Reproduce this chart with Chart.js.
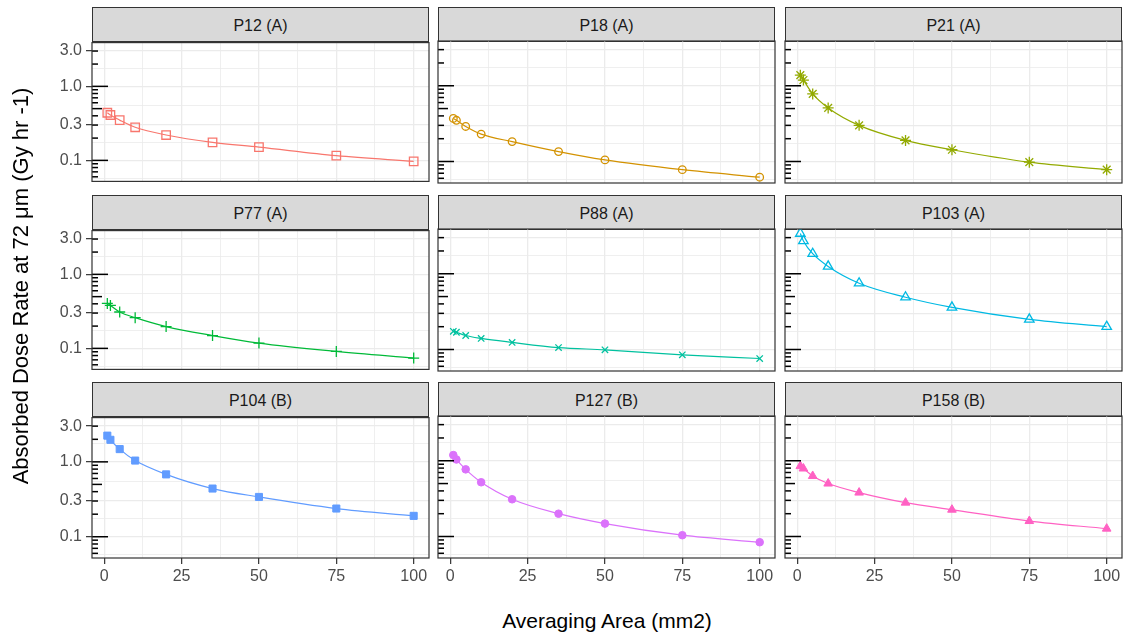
<!DOCTYPE html>
<html>
<head>
<meta charset="utf-8">
<script src="https://cdn.jsdelivr.net/npm/chart.js@4.4.1/dist/chart.umd.min.js"></script>
<style>
  body { margin: 0; background: #fff; }
  #page { position: relative; width: 1125px; height: 638px; overflow: hidden; font-family: "Liberation Sans", Arial, sans-serif; }
  .strip { position: absolute; box-sizing: border-box; background: #d9d9d9; border: 1.2px solid #333;
           color: #1a1a1a; font-size: 16px; text-align: center; }
  .panel { position: absolute; }
  .axis-title { position: absolute; color: #000; text-align: center; white-space: nowrap; }
</style>
</head>
<body>
<div id="page"></div>
<script>
// x = averaging area (mm2), y = absorbed dose rate (Gy/hr), one array per patient
const areas = [1, 2, 5, 10, 20, 35, 50, 75, 100];
const panelLabels = ['P12 (A)', 'P18 (A)', 'P21 (A)', 'P77 (A)', 'P88 (A)', 'P103 (A)', 'P104 (B)', 'P127 (B)', 'P158 (B)'];

const p12  = [0.44, 0.41, 0.35, 0.28, 0.22, 0.175, 0.151, 0.116, 0.097];
const p18  = [0.37, 0.35, 0.29, 0.23, 0.183, 0.135, 0.105, 0.078, 0.062];
const p21  = [1.38, 1.19, 0.78, 0.51, 0.30, 0.19, 0.143, 0.098, 0.078];
const p77  = [0.405, 0.38, 0.31, 0.26, 0.197, 0.149, 0.118, 0.091, 0.074];
const p88  = [0.174, 0.169, 0.153, 0.140, 0.124, 0.106, 0.099, 0.085, 0.076];
const p103 = [3.4, 2.71, 1.84, 1.25, 0.75, 0.49, 0.36, 0.25, 0.20];
const p104 = [2.24, 1.97, 1.48, 1.04, 0.68, 0.44, 0.34, 0.238, 0.19];
const p127 = [1.19, 1.04, 0.77, 0.52, 0.31, 0.20, 0.148, 0.104, 0.084];
const p158 = [0.85, 0.79, 0.63, 0.50, 0.38, 0.28, 0.226, 0.16, 0.127];
const seriesValues = [p12, p18, p21, p77, p88, p103, p104, p127, p158];

const xTickLabels = [0, 25, 50, 75, 100];
const yTickLabels = [0.1, 0.3, 1, 3];

const colors = ['#F8766D', '#D39200', '#93AA00', '#00BA38', '#00C19F', '#00B9E3', '#619CFF', '#DB72FB', '#FF61C3'];
const shapes = ['rect', 'circle', 'star', 'cross', 'crossRot', 'triangle', 'rect', 'circle', 'triangle'];
const filled = [false, false, false, false, false, false, true, true, true];
const radii  = [6, 3.8, 5.5, 5.5, 4.5, 5.5, 5, 3.8, 5];

const X_MIN = -3.95, X_MAX = 104.95;
const Y_MIN = 0.052, Y_MAX = 3.9;

// layout (px)
const colLeft = [92, 438, 785];
const rowTop = [41, 229, 416];
const plotW = 337, plotH = 142, stripH = 34;
const PAD = 12, YW = 60, XH = 32;

// minor grid: halfway between breaks (linear for x, geometric for y)
const xMinor = xTickLabels.slice(1).map((v, i) => (v + xTickLabels[i]) / 2);
const yMinor = [yTickLabels[0] / Math.sqrt(3)].concat(yTickLabels.slice(1).map((v, i) => Math.sqrt(v * yTickLabels[i])));
const xGrid = xTickLabels.concat(xMinor).sort((a, b) => a - b);
const yGrid = yTickLabels.concat(yMinor).sort((a, b) => a - b);

// annotation_logticks positions
const logTicks = [];
for (let k = -2; k <= 0; k++) {
  for (let m = 1; m <= 9; m++) {
    const v = m * Math.pow(10, k);
    if (v >= Y_MIN && v <= Y_MAX) logTicks.push({ v, len: m === 1 ? 16 : (m === 5 ? 10 : 6) });
  }
}

const isMajorX = v => xTickLabels.some(t => Math.abs(t - v) < 1e-9);
const isMajorY = v => yTickLabels.some(t => Math.abs(t - v) < 1e-9);

const panelFrame = {
  id: 'panelFrame',
  afterDraw(chart) {
    const { ctx, chartArea: a } = chart;
    const y = chart.scales.y;
    ctx.save();
    ctx.strokeStyle = '#000';
    ctx.lineWidth = 1.5;
    logTicks.forEach(t => {
      const py = y.getPixelForValue(t.v);
      ctx.beginPath();
      ctx.moveTo(a.left, py);
      ctx.lineTo(a.left + t.len, py);
      ctx.stroke();
    });
    ctx.strokeStyle = '#333';
    ctx.lineWidth = 1.2;
    ctx.strokeRect(a.left, a.top, a.right - a.left, a.bottom - a.top);
    ctx.restore();
  }
};

const page = document.getElementById('page');
const tickFont = { family: '"Liberation Sans", Arial, sans-serif', size: 16 };

seriesValues.forEach((vals, i) => {
  const r = Math.floor(i / 3), c = i % 3;
  const yw = c === 0 ? YW : 0;
  const xh = r === 2 ? XH : 0;

  const strip = document.createElement('div');
  strip.className = 'strip';
  strip.style.left = colLeft[c] + 'px';
  strip.style.top = (rowTop[r] - stripH) + 'px';
  strip.style.width = plotW + 'px';
  strip.style.height = (stripH + 1) + 'px';
  strip.style.lineHeight = (stripH + 1) + 'px';
  strip.textContent = panelLabels[i];
  page.appendChild(strip);

  const box = document.createElement('div');
  box.className = 'panel';
  const w = plotW + yw + 2 * PAD, h = plotH + xh + 2 * PAD;
  box.style.left = (colLeft[c] - yw - PAD) + 'px';
  box.style.top = (rowTop[r] - PAD) + 'px';
  box.style.width = w + 'px';
  box.style.height = h + 'px';
  const cv = document.createElement('canvas');
  cv.width = w; cv.height = h;
  box.appendChild(cv);
  page.appendChild(box);

  new Chart(cv, {
    type: 'line',
    data: {
      datasets: [{
        data: areas.map((x, j) => ({ x, y: vals[j] })),
        borderColor: colors[i],
        backgroundColor: filled[i] ? colors[i] : 'rgba(0,0,0,0)',
        pointBorderColor: colors[i],
        pointBackgroundColor: filled[i] ? colors[i] : 'rgba(0,0,0,0)',
        pointStyle: shapes[i],
        pointRadius: radii[i],
        pointBorderWidth: filled[i] ? 1 : 1.3,
        borderWidth: 1.2,
        cubicInterpolationMode: 'monotone',
        fill: false
      }]
    },
    options: {
      responsive: false,
      animation: false,
      layout: { padding: PAD },
      plugins: { legend: { display: false }, tooltip: { enabled: false } },
      scales: {
        x: {
          type: 'linear',
          min: X_MIN, max: X_MAX,
          afterBuildTicks: s => { s.ticks = xGrid.map(v => ({ value: v })); },
          afterFit: s => { s.height = xh; },
          border: { display: false },
          grid: {
            color: '#ebebeb',
            lineWidth: ctx => (ctx.tick && isMajorX(ctx.tick.value)) ? 1.3 : 0.8,
            drawTicks: r === 2,
            tickLength: 6,
            tickColor: ctx => (ctx.tick && isMajorX(ctx.tick.value)) ? '#333' : 'rgba(0,0,0,0)',
            tickWidth: 1.2
          },
          ticks: {
            display: r === 2,
            autoSkip: false,
            maxRotation: 0,
            padding: 3,
            color: '#4d4d4d',
            font: tickFont,
            callback: v => isMajorX(v) ? String(v) : ''
          }
        },
        y: {
          type: 'logarithmic',
          min: Y_MIN, max: Y_MAX,
          afterBuildTicks: s => { s.ticks = yGrid.map(v => ({ value: v })); },
          afterFit: s => { s.width = yw; },
          border: { display: false },
          grid: {
            color: '#ebebeb',
            lineWidth: ctx => (ctx.tick && isMajorY(ctx.tick.value)) ? 1.3 : 0.8,
            drawTicks: c === 0,
            tickLength: 6,
            tickColor: ctx => (ctx.tick && isMajorY(ctx.tick.value)) ? '#333' : 'rgba(0,0,0,0)',
            tickWidth: 1.2
          },
          ticks: {
            display: c === 0,
            autoSkip: false,
            padding: 4,
            color: '#4d4d4d',
            font: tickFont,
            callback: v => isMajorY(v) ? Number(v).toFixed(1) : ''
          }
        }
      }
    },
    plugins: [panelFrame]
  });
});

const xt = document.createElement('div');
xt.className = 'axis-title';
xt.textContent = 'Averaging Area (mm2)';
xt.style.fontSize = '21px';
xt.style.width = '400px';
xt.style.left = (607 - 200) + 'px';
xt.style.top = '609px';
page.appendChild(xt);

const yt = document.createElement('div');
yt.className = 'axis-title';
yt.textContent = 'Absorbed Dose Rate at 72 μm (Gy hr -1)';
yt.style.fontSize = '22px';
yt.style.width = '600px';
yt.style.left = (21 - 300) + 'px';
yt.style.top = (286 - 13) + 'px';
yt.style.transform = 'rotate(-90deg)';
page.appendChild(yt);
</script>
</body>
</html>
